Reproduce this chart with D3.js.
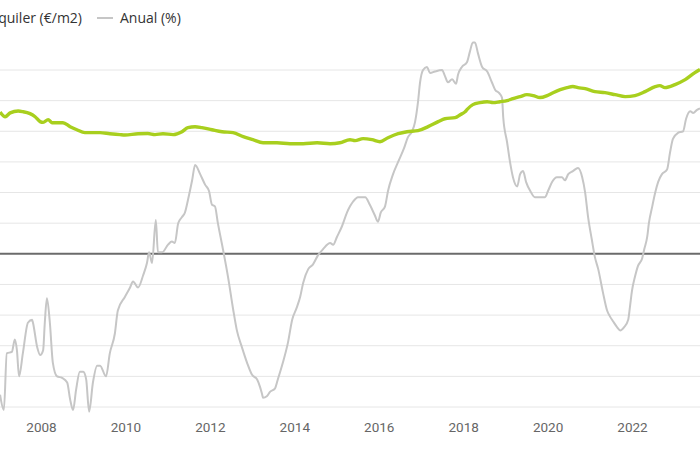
<!DOCTYPE html>
<html><head><meta charset="utf-8">
<script src="https://cdn.jsdelivr.net/npm/d3@7"></script>
<style>html,body{margin:0;padding:0;background:#fff;overflow:hidden}svg{display:block}</style>
</head><body>
<div id="chart"></div>
<script>
// ---- data ----
const anualYears = [2007.03,2007.12,2007.19,2007.31,2007.38,2007.43,2007.48,2007.57,2007.69,2007.79,2007.81,2007.91,2007.98,
2008.05,2008.09,2008.14,2008.21,2008.28,2008.38,2008.50,2008.62,2008.69,2008.76,2008.83,2008.92,2009.00,2009.07,2009.14,2009.23,
2009.33,2009.40,2009.54,2009.63,2009.75,2009.82,2009.99,2010.11,2010.18,2010.30,2010.42,2010.51,2010.56,2010.63,2010.72,2010.77,
2010.87,2011.01,2011.10,2011.17,2011.25,2011.34,2011.41,2011.48,2011.58,2011.65,2011.77,2011.89,2011.98,2012.05,2012.12,2012.19,
2012.31,2012.43,2012.55,2012.64,2012.76,2012.88,2013.00,2013.12,2013.19,2013.24,2013.26,2013.35,2013.43,2013.54,2013.61,2013.73,
2013.85,2013.95,2014.06,2014.14,2014.21,2014.33,2014.44,2014.56,2014.68,2014.85,2014.92,2015.01,2015.13,2015.25,2015.32,2015.39,
2015.51,2015.68,2015.79,2015.91,2015.98,2016.05,2016.15,2016.22,2016.34,2016.46,2016.60,2016.69,2016.79,2016.86,2016.93,2016.98,
2017.05,2017.14,2017.22,2017.33,2017.50,2017.57,2017.64,2017.74,2017.83,2017.88,2017.97,2018.09,2018.16,2018.23,2018.28,2018.35,
2018.45,2018.57,2018.68,2018.76,2018.85,2018.92,2018.95,2019.04,2019.11,2019.18,2019.28,2019.35,2019.42,2019.49,2019.59,2019.70,
2019.82,2019.94,2020.01,2020.11,2020.22,2020.34,2020.41,2020.49,2020.60,2020.72,2020.82,2020.89,2020.96,2021.05,2021.12,2021.20,
2021.31,2021.41,2021.48,2021.55,2021.65,2021.72,2021.81,2021.91,2021.95,2022.00,2022.07,2022.14,2022.24,2022.29,2022.36,2022.40,
2022.48,2022.55,2022.62,2022.71,2022.83,2022.90,2022.97,2023.09,2023.21,2023.28,2023.38,2023.45,2023.54,2023.61];
const anual = [-9.2,-10.2,-6.5,-6.4,-5.6,-6.3,-8.0,-6.5,-4.5,-4.3,-4.5,-6.1,-6.6,
-6.3,-4.5,-2.9,-4.5,-7.1,-8.0,-8.1,-8.4,-9.5,-10.2,-8.9,-7.7,-7.7,-8.2,-10.3,-8.4,
-7.3,-7.3,-8.0,-6.5,-5.2,-3.7,-2.8,-2.2,-1.8,-2.2,-1.4,-0.6,0.1,-0.6,2.2,0.1,
0.1,0.6,0.8,0.7,2.0,2.4,2.7,3.5,4.8,5.8,5.2,4.5,4.1,3.2,3.1,2.0,
0.3,-1.5,-3.6,-5.0,-6.1,-7.1,-7.9,-8.2,-8.7,-9.2,-9.4,-9.3,-9.0,-8.8,-8.2,-7.1,
-5.8,-4.3,-3.5,-2.8,-1.9,-1.0,-0.7,-0.1,0.3,0.7,0.6,1.1,1.8,2.7,3.1,3.4,
3.7,3.7,3.2,2.5,2.1,2.7,3.1,4.1,5.2,6.0,6.9,7.6,8.0,8.6,9.9,11.2,
12.0,12.2,11.8,11.9,12.0,11.6,11.2,11.4,11.1,11.7,12.2,12.5,13.2,13.8,13.8,13.1,
12.2,11.9,11.2,10.7,10.5,10.2,8.9,7.3,6.0,5.0,4.4,5.2,5.4,4.7,4.1,3.7,
3.7,3.7,4.1,4.7,5.0,5.0,4.8,5.2,5.4,5.6,5.0,4.0,2.4,0.9,-0.2,-1.0,
-2.5,-3.7,-4.1,-4.4,-4.8,-5.0,-4.8,-4.3,-3.5,-2.4,-1.5,-0.8,-0.3,0.3,1.1,2.0,
3.1,4.0,4.7,5.2,5.5,6.6,7.5,7.9,8.0,8.8,9.3,9.2,9.4,9.5];

const alqYears = [2007.03,2007.15,2007.27,2007.46,2007.57,2007.74,2007.86,2007.98,2008.05,2008.17,2008.26,2008.38,2008.52,2008.69,
2008.85,2009.04,2009.23,2009.40,2009.63,2009.87,2009.99,2010.30,2010.53,2010.70,2010.89,2011.13,2011.34,2011.48,2011.65,2011.81,
2012.05,2012.29,2012.55,2012.79,2013.02,2013.26,2013.59,2013.90,2014.21,2014.54,2014.85,2015.08,2015.32,2015.44,2015.63,2015.84,
2016.03,2016.22,2016.46,2016.67,2016.93,2017.17,2017.41,2017.57,2017.81,2017.93,2018.05,2018.09,2018.23,2018.40,2018.57,2018.71,
2018.87,2019.04,2019.18,2019.35,2019.51,2019.66,2019.82,2019.99,2020.13,2020.30,2020.46,2020.60,2020.72,2020.89,2021.12,2021.36,
2021.60,2021.84,2022.07,2022.31,2022.55,2022.66,2022.78,2023.02,2023.26,2023.49,2023.61];
const alquiler = [9.25,8.95,9.2,9.32,9.28,9.15,8.95,8.63,8.58,8.76,8.56,8.56,8.56,8.30,
8.10,7.91,7.91,7.91,7.84,7.78,7.76,7.84,7.85,7.78,7.84,7.78,7.97,8.24,8.30,8.24,
8.10,7.97,7.91,7.65,7.45,7.25,7.25,7.19,7.19,7.25,7.19,7.25,7.45,7.39,7.52,7.45,
7.32,7.58,7.84,7.97,8.04,8.30,8.63,8.82,8.89,9.08,9.28,9.41,9.74,9.87,9.93,9.87,
9.93,10.0,10.13,10.26,10.39,10.33,10.20,10.33,10.52,10.72,10.85,10.92,10.85,10.78,10.59,10.52,
10.39,10.26,10.33,10.59,10.92,10.98,10.85,11.05,11.37,11.83,12.03];

const yTicks = [-10,-8,-6,-4,-2,0,2,4,6,8,10,12];
const xTicks = [2008,2010,2012,2014,2016,2018,2020,2022];
const legendLabels = ["Alquiler (€/m2)", "Anual (%)"];

// ---- drawing ----
const W = 700, H = 450;
const svg = d3.select("#chart").append("svg").attr("width", W).attr("height", H);

const x = d3.scaleLinear().domain([2008, 2022]).range([41, 632]);
const y = d3.scaleLinear().domain([-10, 12]).range([407, 70]);

// gridlines
svg.append("g").selectAll("line").data(yTicks.filter(d => d !== 0)).join("line")
  .attr("x1", 0).attr("x2", W)
  .attr("y1", d => y(d)).attr("y2", d => y(d))
  .attr("stroke", "#e6e6e6").attr("stroke-width", 1);

// x axis labels
const xAxis = d3.axisBottom(x).tickValues(xTicks).tickFormat(d3.format("d")).tickSize(0).tickPadding(0);
const gx = svg.append("g").attr("transform", `translate(0,${y(-10)})`).call(xAxis);
gx.select(".domain").remove();
gx.selectAll("text").attr("dy", "1.85em")
  .attr("fill", "#666").style("font-family", "Roboto, 'Open Sans', sans-serif").style("font-size", "13.5px");

// zero line
svg.append("line").attr("x1", 0).attr("x2", W).attr("y1", y(0)).attr("y2", y(0))
  .attr("stroke", "#6b6b6b").attr("stroke-width", 2);

const anualData = anualYears.map((t, i) => [t, anual[i]]);
const alqData = alqYears.map((t, i) => [t, alquiler[i]]);
const line = d3.line().x(d => x(d[0])).y(d => y(d[1])).curve(d3.curveMonotoneX);

svg.append("path").datum(anualData).attr("d", line)
  .attr("fill", "none").attr("stroke", "#c6c6c6").attr("stroke-width", 2).attr("stroke-linejoin", "round");
svg.append("path").datum(alqData).attr("d", line)
  .attr("fill", "none").attr("stroke", "#a8cf1e").attr("stroke-width", 3.4).attr("stroke-linejoin", "round");

// legend
const lg = svg.append("g").style("font-family", "'Open Sans', sans-serif").style("font-size", "14px").attr("fill", "#333");
lg.append("line").attr("x1", -110).attr("x2", -95).attr("y1", 18).attr("y2", 18).attr("stroke", "#a8cf1e").attr("stroke-width", 3);
lg.append("text").attr("x", 82).attr("y", 23).attr("text-anchor", "end").text(legendLabels[0]);
lg.append("line").attr("x1", 97).attr("x2", 113).attr("y1", 18).attr("y2", 18).attr("stroke", "#c6c6c6").attr("stroke-width", 2);
lg.append("text").attr("x", 120).attr("y", 23).text(legendLabels[1]);
</script>
</body></html>
